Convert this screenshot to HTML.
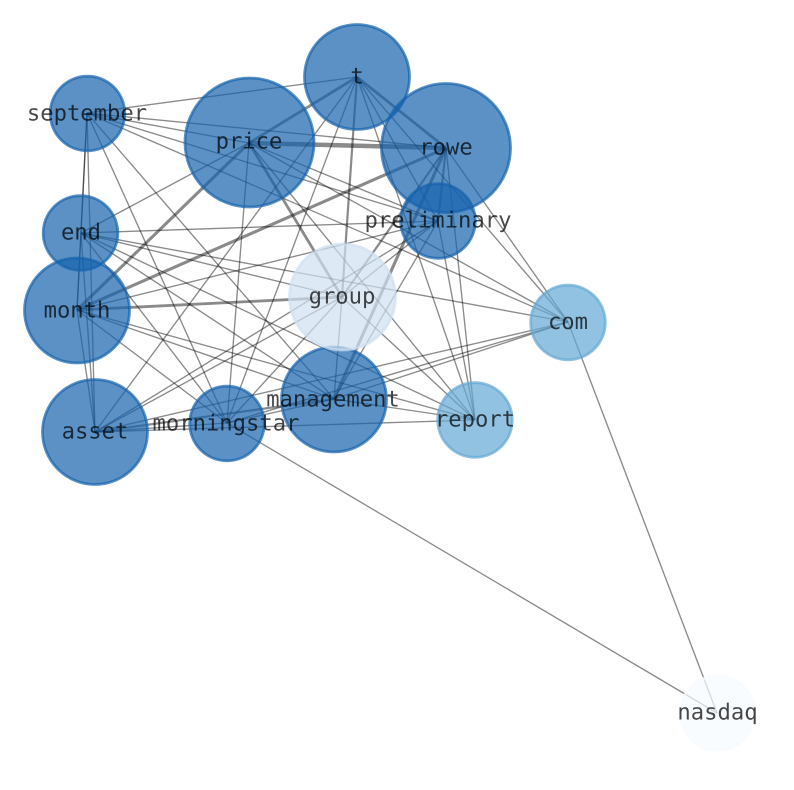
<!DOCTYPE html>
<html><head><meta charset="utf-8"><style>html,body{margin:0;padding:0;background:#fff}svg{display:block}text{font-family:"DejaVu Sans Mono",monospace;font-size:22.2px;fill:#000;fill-opacity:.72;text-anchor:middle;text-rendering:geometricPrecision}</style></head><body>
<svg width="794" height="790" viewBox="0 0 794 790" xmlns="http://www.w3.org/2000/svg">
<g stroke="#000" stroke-opacity=".46" stroke-width="1.35" fill="none">
<line x1="87" y1="113" x2="357" y2="77"/>
<line x1="87" y1="113" x2="249" y2="143"/>
<line x1="87" y1="113" x2="446" y2="148"/>
<line x1="87" y1="113" x2="438" y2="221"/>
<line x1="87" y1="113" x2="568" y2="322"/>
<line x1="87" y1="113" x2="81" y2="233"/>
<line x1="87" y1="113" x2="77" y2="310"/>
<line x1="87" y1="113" x2="95" y2="432"/>
<line x1="87" y1="113" x2="227" y2="423"/>
<line x1="87" y1="113" x2="334" y2="399"/>
<line x1="357" y1="77" x2="438" y2="221"/>
<line x1="357" y1="77" x2="568" y2="322"/>
<line x1="357" y1="77" x2="475" y2="420"/>
<line x1="357" y1="77" x2="95" y2="432"/>
<line x1="357" y1="77" x2="227" y2="423"/>
<line x1="249" y1="143" x2="81" y2="233"/>
<line x1="249" y1="143" x2="227" y2="423"/>
<line x1="249" y1="143" x2="438" y2="221"/>
<line x1="249" y1="143" x2="568" y2="322"/>
<line x1="249" y1="143" x2="475" y2="420"/>
<line x1="446" y1="148" x2="568" y2="322"/>
<line x1="446" y1="148" x2="475" y2="420"/>
<line x1="438" y1="221" x2="81" y2="233"/>
<line x1="438" y1="221" x2="77" y2="310"/>
<line x1="438" y1="221" x2="475" y2="420"/>
<line x1="438" y1="221" x2="95" y2="432"/>
<line x1="438" y1="221" x2="342" y2="297"/>
<line x1="438" y1="221" x2="334" y2="399"/>
<line x1="81" y1="233" x2="77" y2="310"/>
<line x1="81" y1="233" x2="95" y2="432"/>
<line x1="81" y1="233" x2="227" y2="423"/>
<line x1="81" y1="233" x2="342" y2="297"/>
<line x1="81" y1="233" x2="568" y2="322"/>
<line x1="81" y1="233" x2="334" y2="399"/>
<line x1="81" y1="233" x2="475" y2="420"/>
<line x1="77" y1="310" x2="95" y2="432"/>
<line x1="77" y1="310" x2="227" y2="423"/>
<line x1="77" y1="310" x2="334" y2="399"/>
<line x1="77" y1="310" x2="475" y2="420"/>
<line x1="342" y1="297" x2="334" y2="399"/>
<line x1="342" y1="297" x2="475" y2="420"/>
<line x1="342" y1="297" x2="95" y2="432"/>
<line x1="342" y1="297" x2="227" y2="423"/>
<line x1="568" y1="322" x2="334" y2="399"/>
<line x1="568" y1="322" x2="95" y2="432"/>
<line x1="568" y1="322" x2="227" y2="423"/>
<line x1="568" y1="322" x2="717" y2="713"/>
<line x1="334" y1="399" x2="475" y2="420"/>
<line x1="334" y1="399" x2="227" y2="423"/>
<line x1="475" y1="420" x2="95" y2="432"/>
<line x1="95" y1="432" x2="227" y2="423"/>
<line x1="227" y1="423" x2="717" y2="713"/>
<g stroke-width="2.2">
<line x1="357" y1="77" x2="342" y2="297"/>
<line x1="446" y1="148" x2="438" y2="221"/>
<line x1="95" y1="432" x2="334" y2="399"/>
<line x1="446" y1="148" x2="342" y2="297"/>
</g>
<g stroke-width="2.8">
<line x1="357" y1="77" x2="249" y2="143"/>
<line x1="357" y1="77" x2="446" y2="148"/>
<line x1="77" y1="310" x2="342" y2="297"/>
<line x1="249" y1="143" x2="342" y2="297"/>
</g>
<g stroke-width="3.1">
<line x1="77" y1="310" x2="249" y2="143"/>
<line x1="77" y1="310" x2="446" y2="148"/>
<line x1="446" y1="148" x2="334" y2="399"/>
</g>
<line x1="249" y1="143" x2="446" y2="148" stroke-width="4.6"/>
</g>
<g stroke-width="2.8" fill-opacity=".7" stroke-opacity=".7">
<g fill="#1662ac" stroke="#1662ac">
<circle cx="357" cy="77" r="52.5"/>
<circle cx="87.5" cy="113.5" r="37.3"/>
<circle cx="249.5" cy="142.5" r="64.5"/>
<circle cx="446" cy="148" r="64.5"/>
<circle cx="438" cy="221" r="37.3"/>
<circle cx="80.5" cy="233" r="37.3"/>
<circle cx="77" cy="310.5" r="52.5"/>
<circle cx="334" cy="399.5" r="52.5"/>
<circle cx="95" cy="432" r="52.5"/>
<circle cx="227" cy="423.5" r="37.3"/>
</g>
<circle cx="342.5" cy="297" r="53" fill="#cfe0f1" stroke="#cfe0f1"/>
<circle cx="568" cy="322.5" r="37.3" fill="#64a8d4" stroke="#64a8d4"/>
<circle cx="475" cy="420" r="37.3" fill="#64a8d4" stroke="#64a8d4"/>
<circle cx="717.5" cy="713" r="37.3" fill="#f7fbff" stroke="#f7fbff"/>
</g>
<text x="357" y="83.5">t</text>
<text x="87" y="120.5">september</text>
<text x="249" y="148.5">price</text>
<text x="446" y="154.5">rowe</text>
<text x="438" y="227.5">preliminary</text>
<text x="81" y="239.5">end</text>
<text x="77" y="317.5">month</text>
<text x="342" y="303.5">group</text>
<text x="568" y="329">com</text>
<text x="333" y="406.5">management</text>
<text x="475" y="426.5">report</text>
<text x="95" y="438.5">asset</text>
<text x="226" y="430.5">morningstar</text>
<text x="717.5" y="719.5">nasdaq</text>
</svg>
</body></html>
